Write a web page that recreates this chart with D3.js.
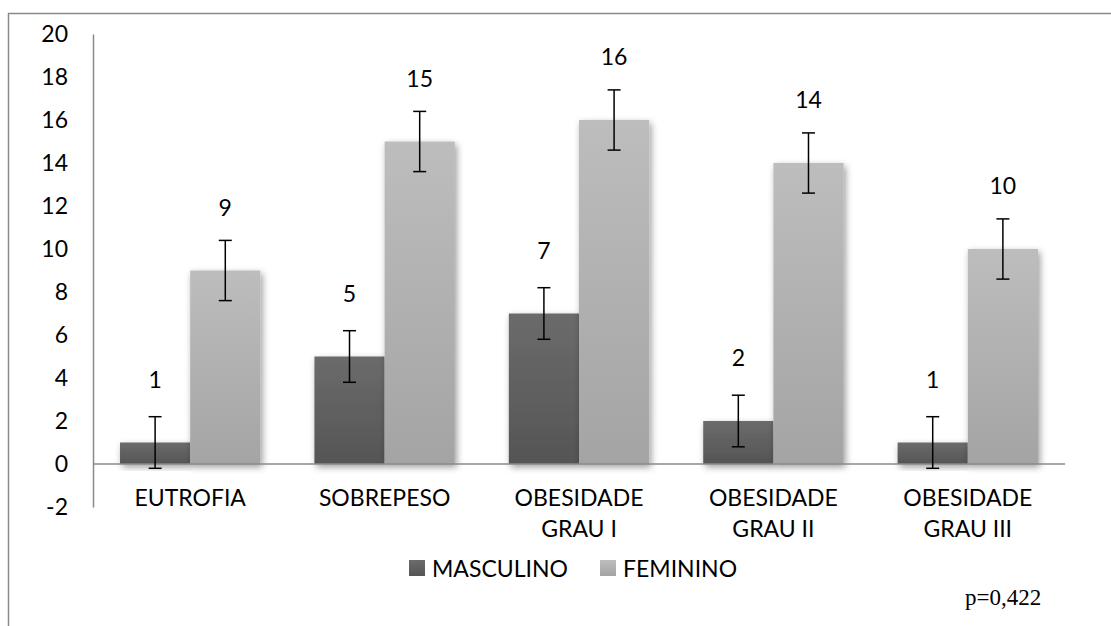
<!DOCTYPE html>
<html>
<head>
<meta charset="utf-8">
<script src="https://cdn.jsdelivr.net/npm/d3@7"></script>
<style>
  html, body { margin: 0; padding: 0; background: #fff; }
  svg { display: block; }
</style>
</head>
<body>
<svg id="chart" width="1111" height="626"></svg>
<script>
// ---- data ----
const categories = ["EUTROFIA", "SOBREPESO", "OBESIDADE GRAU I", "OBESIDADE GRAU II", "OBESIDADE GRAU III"];
const categoryLines = [["EUTROFIA"], ["SOBREPESO"], ["OBESIDADE", "GRAU I"], ["OBESIDADE", "GRAU II"], ["OBESIDADE", "GRAU III"]];
const seriesNames = ["MASCULINO", "FEMININO"];
const masculino = [1, 5, 7, 2, 1];
const feminino = [9, 15, 16, 14, 10];
const errMasculino = [1.2, 1.2, 1.2, 1.2, 1.2];
const errFeminino = [1.4, 1.4, 1.4, 1.4, 1.4];
const yTicks = [-2, 0, 2, 4, 6, 8, 10, 12, 14, 16, 18, 20];
const note = "p=0,422";

const seriesValues = [masculino, feminino];
const seriesErr = [errMasculino, errFeminino];

const SANS = "Lato, 'Open Sans', sans-serif";
const svg = d3.select("#chart");
const plot = { left: 93, right: 1065, top: 34, bottom: 507 };

// defs: gradients + shadow
const defs = svg.append("defs");
const grads = [
  { id: "gM", top: "#6b6b6b", bottom: "#555555" },
  { id: "gF", top: "#bdbdbd", bottom: "#a4a4a4" }
];
grads.forEach(g => {
  const lg = defs.append("linearGradient").attr("id", g.id)
    .attr("x1", 0).attr("y1", 0).attr("x2", 0).attr("y2", 1);
  lg.append("stop").attr("offset", "0%").attr("stop-color", g.top);
  lg.append("stop").attr("offset", "100%").attr("stop-color", g.bottom);
});
const f = defs.append("filter").attr("id", "shadow")
  .attr("x", "-20%").attr("y", "-20%").attr("width", "150%").attr("height", "150%");
f.append("feDropShadow").attr("dx", 2).attr("dy", 3).attr("stdDeviation", 3.5)
  .attr("flood-color", "#000").attr("flood-opacity", 0.4);

// outer frame
svg.append("rect").attr("x", 8.5).attr("y", 13.5).attr("width", 1300).attr("height", 800)
  .attr("fill", "#fff").attr("stroke", "#8a8a8a").attr("stroke-width", 1.5);

// scales
const y = d3.scaleLinear().domain([-2, 20]).range([plot.bottom, plot.top]);
const x0 = d3.scaleBand().domain(categories).range([plot.left, plot.right]).paddingInner(0).paddingOuter(0);
const x1 = d3.scaleBand().domain(seriesNames).range([0, x0.bandwidth()]).paddingInner(0).paddingOuter(0.385);

// y axis
const yAxis = d3.axisLeft(y).tickValues(yTicks).tickSize(0).tickPadding(25).tickFormat(d => String(d));
const gy = svg.append("g").attr("transform", `translate(${plot.left},0)`).call(yAxis);
gy.select(".domain").attr("stroke", "#8a8a8a").attr("stroke-width", 1.5);
gy.selectAll("text").style("font-family", SANS).style("font-size", "23px").attr("fill", "#000");

// bars
const groups = svg.append("g").selectAll("g").data(categories).join("g")
  .attr("transform", d => `translate(${x0(d)},0)`);

seriesNames.forEach((s, si) => {
  groups.append("rect")
    .attr("x", x1(s))
    .attr("width", x1.bandwidth())
    .attr("y", (d, i) => y(Math.max(0, seriesValues[si][i])))
    .attr("height", (d, i) => Math.abs(y(seriesValues[si][i]) - y(0)))
    .attr("fill", `url(#${grads[si].id})`)
    .attr("filter", "url(#shadow)");
});

// zero baseline
svg.append("line")
  .attr("x1", plot.left).attr("x2", plot.right)
  .attr("y1", y(0)).attr("y2", y(0))
  .attr("stroke", "#8a8a8a").attr("stroke-width", 1.5);

// error bars + value labels
seriesNames.forEach((s, si) => {
  const cx = i => x0(categories[i]) + x1(s) + x1.bandwidth() / 2;
  const eb = svg.append("g").selectAll("g").data(seriesValues[si]).join("g");
  eb.append("line")
    .attr("x1", (d, i) => cx(i)).attr("x2", (d, i) => cx(i))
    .attr("y1", (d, i) => y(d + seriesErr[si][i])).attr("y2", (d, i) => y(d - seriesErr[si][i]))
    .attr("stroke", "#000").attr("stroke-width", 1.5);
  [1, -1].forEach(sign => {
    eb.append("line")
      .attr("x1", (d, i) => cx(i) - 6.5).attr("x2", (d, i) => cx(i) + 6.5)
      .attr("y1", (d, i) => y(d + sign * seriesErr[si][i])).attr("y2", (d, i) => y(d + sign * seriesErr[si][i]))
      .attr("stroke", "#000").attr("stroke-width", 1.5);
  });
  eb.append("text")
    .attr("x", (d, i) => cx(i))
    .attr("y", (d, i) => y(d) - 64)
    .attr("text-anchor", "middle")
    .attr("dominant-baseline", "central")
    .style("font-family", SANS).style("font-size", "23px")
    .text(d => d);
});

// category labels
const cl = svg.append("g").selectAll("text").data(categories).join("text")
  .attr("x", d => x0(d) + x0.bandwidth() / 2)
  .attr("y", 497)
  .attr("text-anchor", "middle")
  .attr("dominant-baseline", "central")
  .style("font-family", SANS).style("font-size", "23px");
cl.each(function(d, i) {
  const t = d3.select(this);
  categoryLines[i].forEach((ln, k) => {
    t.append("tspan").attr("x", x0(d) + x0.bandwidth() / 2).attr("dy", k === 0 ? 0 : 31).text(ln);
  });
});

// legend
const legendX = [409, 600];
const legendY = 568;
seriesNames.forEach((s, si) => {
  svg.append("rect").attr("x", legendX[si]).attr("y", legendY - 8).attr("width", 16).attr("height", 16)
    .attr("fill", `url(#${grads[si].id})`);
  svg.append("text").attr("x", legendX[si] + 23).attr("y", legendY)
    .attr("dominant-baseline", "central")
    .style("font-family", SANS).style("font-size", "23px").text(s);
});

// p-value note
svg.append("text").attr("x", 965).attr("y", 605)
  .style("font-family", "'Liberation Serif', 'Times New Roman', serif")
  .style("font-size", "23px").text(note);
</script>
</body>
</html>
